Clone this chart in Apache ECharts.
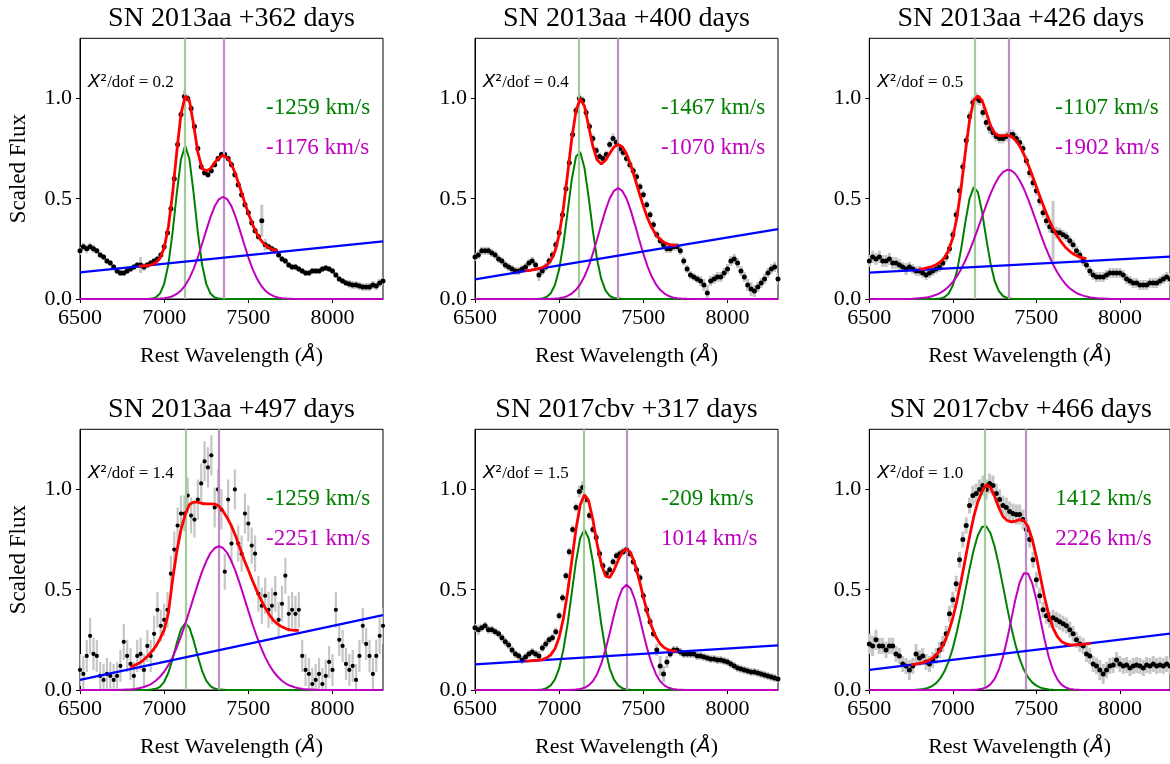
<!DOCTYPE html>
<html><head><meta charset="utf-8">
<script src="https://cdn.jsdelivr.net/npm/echarts@6/dist/echarts.min.js"></script>
<style>html,body{margin:0;padding:0;background:#fff;}#c{width:1170px;height:764px;}</style>
</head><body><div id="c"></div>
<script>
// ---------------- DATA ----------------
const TITLES = ['SN 2013aa +362 days','SN 2013aa +400 days','SN 2013aa +426 days','SN 2013aa +497 days','SN 2017cbv +317 days','SN 2017cbv +466 days'];
const CHI = ['0.2','0.4','0.5','1.4','1.5','1.0'];
const VEL_G = ['-1259 km/s','-1467 km/s','-1107 km/s','-1259 km/s','-209 km/s','1412 km/s'];
const VEL_M = ['-1176 km/s','-1070 km/s','-1902 km/s','-2251 km/s','1014 km/s','2226 km/s'];
const X_TICKS = [6500,7000,7500,8000];
const Y_TICKS = [0,0.5,1.0];
const LINE_G = [7125,7118,7130,7127,7148,7191];
const LINE_M = [7352,7349,7333,7325,7402,7436];

const WAVE_DATA = [
6500,6520,6540,6560,6580,6600,6620,6640,6660,6680,
6700,6720,6740,6760,6780,6800,6820,6840,6860,6880,
6900,6920,6940,6960,6980,7000,7020,7040,7060,7080,
7100,7120,7140,7160,7180,7200,7220,7240,7260,7280,
7300,7320,7340,7360,7380,7400,7420,7440,7460,7480,
7500,7520,7540,7560,7580,7600,7620,7640,7660,7680,
7700,7720,7740,7760,7780,7800,7820,7840,7860,7880,
7900,7920,7940,7960,7980,8000,8020,8040,8060,8080,
8100,8120,8140,8160,8180,8200,8220,8240,8260,8280,
8300];
const WAVE_MODEL = [
6500,6525,6550,6575,6600,6625,6650,6675,6700,6725,
6750,6775,6800,6825,6850,6875,6900,6925,6950,6975,
7000,7025,7050,7075,7100,7125,7150,7175,7200,7225,
7250,7275,7300,7325,7350,7375,7400,7425,7450,7475,
7500,7525,7550,7575,7600,7625,7650,7675,7700,7725,
7750,7775,7800,7825,7850,7875,7900,7925,7950,7975,
8000,8025,8050,8075,8100,8125,8150,8175,8200,8225,
8250,8275,8300];
const BASE_X = [6500, 8300];

// Panel 1: SN 2013aa +362
const FLUX_1 = [
.24,.26,.25,.26,.25,.24,.22,.21,.19,.18,
.16,.14,.13,.13,.14,.15,.16,.17,.17,.16,
.17,.18,.19,.20,.22,.26,.33,.45,.60,.77,
.92,1.01,1.00,.95,.86,.75,.66,.63,.62,.64,
.67,.70,.72,.72,.70,.67,.62,.57,.52,.47,
.43,.38,.34,.31,.39,.27,.26,.25,.24,.22,
.20,.19,.17,.16,.16,.15,.14,.13,.13,.14,
.14,.14,.15,.155,.15,.14,.12,.10,.09,.08,
.075,.07,.07,.065,.06,.06,.06,.07,.065,.08,
.09];
const ERR_1 = [
.02,.02,.02,.02,.02,.015,.015,.015,.015,.015,
.015,.015,.015,.015,.015,.015,.015,.015,.04,.02,
.015,.015,.015,.015,.015,.015,.015,.015,.015,.015,
.015,.03,.02,.015,.015,.015,.015,.015,.015,.015,
.015,.015,.015,.015,.015,.015,.015,.015,.015,.015,
.015,.015,.015,.015,.08,.03,.015,.015,.015,.015,
.015,.015,.015,.015,.015,.015,.015,.015,.015,.015,
.015,.015,.015,.015,.015,.015,.015,.015,.015,.015,
.02,.02,.02,.02,.02,.02,.02,.02,.02,.02,
.02];
const GAUSS_G_1 = [
0,0,0,0,0,0,0,0,0,0,
0,0,0,0,0,0,0,.002,.008,.027,
.075,.173,.332,.528,.697,.765,.697,.528,.332,.173,
.075,.027,.008,.002,0,0,0,0,0,0,
0,0,0,0,0,0,0,0,0,0,
0,0,0,0,0,0,0,0,0,0,
0,0,0,0,0,0,0,0,0,0,
0,0,0];
const GAUSS_M_1 = [
0,0,0,0,0,0,0,0,0,0,
0,0,0,0,0,0,0,0,.001,.002,
.004,.008,.014,.025,.042,.068,.104,.150,.208,.274,
.342,.408,.462,.497,.510,.497,.462,.408,.342,.274,
.208,.150,.104,.068,.042,.025,.014,.008,.004,.002,
.001,0,0,0,0,0,0,0,0,0,
0,0,0,0,0,0,0,0,0,0,
0,0,0];
const FIT_1 = [
null,null,null,null,null,null,null,null,null,null,
null,null,null,null,.163,.165,.167,.171,.181,.203,
.255,.359,.526,.735,.923,1.012,.990,.869,.733,.650,
.640,.650,.680,.703,.716,.705,.672,.620,.556,.490,
.427,.371,.327,.293,.269,.254,.245,.242,null,null,
null,null,null,null,null,null,null,null,null,null,
null,null,null,null,null,null,null,null,null,null,
null,null,null];
const BASE_1 = [0.133, 0.287];

// Panel 2: SN 2013aa +400
const FLUX_2 = [
.21,.22,.24,.24,.24,.23,.22,.20,.19,.17,
.16,.15,.14,.14,.15,.16,.18,.19,.17,.12,
.14,.16,.19,.22,.27,.33,.42,.55,.68,.82,
.94,1.00,.99,.93,.86,.80,.74,.71,.70,.72,
.77,.80,.78,.75,.73,.70,.67,.64,.61,.56,
.52,.47,.42,.37,.32,.29,.27,.25,.25,.26,
.26,.24,.19,.15,.12,.11,.10,.09,.07,.03,
.09,.10,.11,.11,.13,.15,.19,.20,.18,.14,
.11,.07,.05,.04,.06,.08,.10,.13,.15,.16,
.10];
const ERR_2 = [
.02,.02,.02,.02,.02,.02,.02,.02,.02,.02,
.02,.02,.02,.02,.02,.02,.02,.02,.02,.03,
.02,.02,.02,.02,.02,.02,.02,.02,.02,.02,
.02,.025,.02,.02,.02,.02,.02,.02,.02,.02,
.02,.025,.02,.02,.02,.02,.02,.02,.02,.02,
.02,.02,.02,.02,.02,.02,.02,.02,.02,.02,
.02,.02,.02,.02,.02,.02,.02,.025,.03,.04,
.025,.025,.025,.025,.025,.025,.025,.025,.025,.025,
.025,.03,.035,.03,.025,.025,.025,.025,.025,.025,
.03];
const GAUSS_G_2 = [
0,0,0,0,0,0,0,0,0,0,
0,0,0,0,0,.001,.003,.010,.029,.070,
.149,.273,.433,.596,.710,.733,.655,.508,.341,.198,
.100,.043,.016,.005,.002,0,0,0,0,0,
0,0,0,0,0,0,0,0,0,0,
0,0,0,0,0,0,0,0,0,0,
0,0,0,0,0,0,0,0,0,0,
0,0,0];
const GAUSS_M_2 = [
0,0,0,0,0,0,0,0,0,0,
0,0,0,0,0,0,0,0,.001,.002,
.004,.008,.015,.027,.046,.073,.112,.163,.226,.297,
.371,.442,.501,.539,.553,.539,.501,.442,.371,.297,
.226,.163,.112,.073,.046,.027,.015,.008,.004,.002,
.001,0,0,0,0,0,0,0,0,0,
0,0,0,0,0,0,0,0,0,0,
0,0,0];
const FIT_2 = [
null,null,null,null,null,null,null,null,null,null,
null,null,.140,.143,.147,.151,.157,.167,.191,.236,
.321,.452,.622,.801,.937,1.000,.962,.863,.762,.694,
.673,.691,.726,.757,.771,.759,.724,.669,.601,.531,
.463,.404,.356,.320,.297,.281,.273,.269,.269,null,
null,null,null,null,null,null,null,null,null,null,
null,null,null,null,null,null,null,null,null,null,
null,null,null];
const BASE_2 = [0.098, 0.349];

// Panel 3: SN 2013aa +426
const FLUX_3 = [
.19,.21,.20,.21,.19,.19,.20,.18,.18,.17,
.16,.15,.16,.15,.14,.14,.13,.12,.13,.14,
.15,.16,.18,.21,.25,.32,.42,.54,.66,.79,
.91,.98,1.00,.99,.93,.88,.85,.83,.81,.80,
.80,.81,.82,.82,.80,.78,.75,.69,.63,.58,
.54,.49,.43,.39,.36,.34,.33,.33,.32,.31,
.29,.27,.24,.22,.19,.17,.14,.12,.11,.11,
.11,.12,.13,.13,.13,.13,.12,.10,.09,.08,
.08,.07,.07,.07,.08,.08,.08,.09,.10,.11,
.10];
const ERR_3 = [
.03,.03,.03,.03,.03,.03,.03,.03,.03,.03,
.025,.03,.025,.025,.025,.025,.025,.025,.025,.025,
.025,.025,.03,.025,.025,.025,.025,.025,.025,.025,
.025,.025,.03,.025,.025,.025,.025,.025,.025,.025,
.025,.025,.025,.025,.025,.025,.025,.025,.025,.025,
.025,.025,.025,.025,.03,.15,.03,.025,.025,.025,
.025,.025,.025,.025,.025,.025,.025,.025,.025,.025,
.025,.025,.025,.025,.025,.025,.025,.025,.025,.025,
.025,.025,.025,.025,.025,.025,.025,.025,.025,.025,
.03];
const GAUSS_G_3 = [
0,0,0,0,0,0,0,0,0,0,
0,0,0,0,0,0,.001,.003,.009,.027,
.067,.140,.250,.383,.500,.558,.533,.434,.302,.180,
.091,.040,.015,.005,.001,0,0,0,0,0,
0,0,0,0,0,0,0,0,0,0,
0,0,0,0,0,0,0,0,0,0,
0,0,0,0,0,0,0,0,0,0,
0,0,0];
const GAUSS_M_3 = [
0,0,0,0,0,0,0,0,0,0,
0,.002,.004,.006,.009,.014,.021,.031,.044,.062,
.085,.114,.150,.192,.240,.294,.351,.410,.468,.523,
.570,.608,.633,.644,.641,.623,.592,.550,.499,.443,
.384,.325,.269,.218,.172,.133,.101,.074,.054,.038,
.026,.018,.012,.007,.005,.003,.002,.001,0,0,
0,0,0,0,0,0,0,0,0,0,
0,0,0];
const FIT_3 = [
null,null,null,null,null,null,null,null,null,null,
null,null,.149,.152,.156,.162,.171,.185,.205,.242,
.306,.409,.556,.732,.890,.990,1.012,.990,.930,.867,
.826,.814,.815,.817,.811,.793,.763,.722,.672,.617,
.560,.502,.447,.397,.352,.314,.283,.257,.238,.223,
.212,.205,.201,null,null,null,null,null,null,null,
null,null,null,null,null,null,null,null,null,null,
null,null,null];
const BASE_3 = [0.132, 0.211];

// Panel 4: SN 2013aa +497
const FLUX_4 = [
.10,.08,.17,.27,.18,.17,.07,.05,.08,.07,
.05,.07,.12,.24,.17,.13,.07,.17,.18,.10,
.22,.17,.28,.40,.32,.35,.40,.58,.70,.82,
.88,.88,.97,.87,.85,.95,1.03,1.14,1.11,1.17,
.91,1.00,.90,.59,.95,.73,1.00,.73,.68,.88,
.83,.72,.68,.48,.42,.47,.40,.42,.48,.35,
.43,.57,.38,.40,.38,.40,.17,.10,.08,.03,
.05,.08,.03,.07,.14,.10,.40,.25,.22,.13,
.10,.12,.05,.17,.32,.23,.17,.08,.17,.27,
.32];
const ERR_4 = [
.08,.09,.08,.09,.08,.08,.07,.08,.08,.07,
.08,.07,.08,.09,.08,.08,.07,.08,.08,.08,
.08,.08,.09,.09,.08,.08,.09,.09,.09,.09,
.09,.09,.09,.09,.09,.10,.10,.10,.10,.10,
.10,.10,.10,.09,.10,.10,.10,.09,.09,.10,
.09,.09,.09,.09,.09,.09,.09,.09,.09,.09,
.09,.09,.09,.09,.09,.09,.08,.08,.08,.08,
.08,.08,.08,.08,.08,.08,.09,.08,.08,.08,
.08,.08,.08,.08,.09,.08,.08,.08,.08,.09,
.09];
const GAUSS_G_4 = [
0,0,0,0,0,0,0,0,0,0,
0,0,0,0,0,0,0,.002,.006,.016,
.041,.086,.154,.234,.303,.333,.311,.247,.167,.096,
.047,.019,.007,.002,.001,0,0,0,0,0,
0,0,0,0,0,0,0,0,0,0,
0,0,0,0,0,0,0,0,0,0,
0,0,0,0,0,0,0,0,0,0,
0,0,0];
const GAUSS_M_4 = [
0,0,0,0,0,0,0,0,0,0,
.001,.002,.003,.005,.009,.014,.021,.031,.046,.066,
.091,.124,.164,.212,.267,.328,.394,.462,.528,.590,
.642,.683,.708,.717,.708,.683,.642,.590,.528,.462,
.394,.328,.267,.212,.164,.124,.091,.066,.046,.031,
.021,.014,.009,.005,.003,.002,.001,0,0,0,
0,0,0,0,0,0,0,0,0,0,
0,0,0];
const FIT_4 = [
null,null,null,null,null,null,null,null,null,null,
null,null,.113,.123,.133,.148,.167,.190,.217,.255,
.300,.383,.550,.690,.800,.875,.925,.937,.937,.930,
.928,.928,.927,.917,.892,.858,.817,.767,.708,.650,
.598,.545,.495,.450,.410,.375,.347,.328,.315,.305,
.300,.297,.297,null,null,null,null,null,null,null,
null,null,null,null,null,null,null,null,null,null,
null,null,null];
const BASE_4 = [0.050, 0.373];

// Panel 5: SN 2017cbv +317
const FLUX_5 = [
.31,.30,.31,.32,.30,.30,.29,.28,.26,.24,
.225,.20,.18,.17,.15,.165,.18,.19,.18,.17,
.21,.23,.25,.26,.29,.37,.46,.57,.69,.80,
.91,.99,1.01,.95,.87,.80,.76,.68,.62,.58,
.60,.64,.67,.68,.69,.70,.68,.64,.60,.56,
.47,.40,.34,.28,.20,.12,.08,.14,.18,.20,
.20,.19,.18,.18,.18,.18,.17,.17,.165,.16,
.155,.155,.15,.15,.145,.14,.13,.12,.11,.105,
.10,.095,.09,.09,.085,.08,.075,.07,.065,.06,
.055];
const ERR_5 = [
.02,.025,.02,.02,.02,.02,.02,.02,.02,.02,
.02,.02,.02,.02,.02,.02,.02,.02,.02,.025,
.02,.02,.02,.02,.02,.02,.02,.02,.02,.02,
.02,.03,.03,.02,.02,.02,.02,.02,.02,.02,
.02,.02,.02,.02,.02,.02,.02,.02,.02,.02,
.02,.02,.02,.02,.03,.05,.04,.03,.02,.02,
.02,.02,.02,.02,.02,.02,.02,.02,.02,.02,
.02,.02,.02,.02,.02,.02,.02,.02,.02,.02,
.02,.02,.02,.02,.02,.02,.02,.02,.02,.02,
.02];
const GAUSS_G_5 = [
0,0,0,0,0,0,0,0,0,0,
0,0,0,0,0,.001,.003,.009,.023,.053,
.108,.200,.329,.485,.641,.757,.800,.757,.641,.485,
.329,.200,.108,.053,.023,.009,.003,.001,0,0,
0,0,0,0,0,0,0,0,0,0,
0,0,0,0,0,0,0,0,0,0,
0,0,0,0,0,0,0,0,0,0,
0,0,0];
const GAUSS_M_5 = [
0,0,0,0,0,0,0,0,0,0,
0,0,0,0,0,0,0,0,0,0,
0,0,0,.001,.002,.005,.011,.023,.044,.079,
.131,.200,.283,.371,.450,.505,.525,.505,.450,.371,
.283,.200,.131,.079,.044,.023,.011,.005,.002,.001,
0,0,0,0,0,0,0,0,0,0,
0,0,0,0,0,0,0,0,0,0,
0,0,0];
const FIT_5 = [
null,null,null,null,null,null,null,null,null,null,
null,null,.144,.145,.147,.149,.152,.160,.175,.206,
.263,.356,.486,.644,.803,.923,.973,.944,.850,.730,
.628,.569,.561,.596,.646,.688,.704,.683,.628,.551,
.464,.382,.315,.264,.230,.211,.200,.195,.194,null,
null,null,null,null,null,null,null,null,null,null,
null,null,null,null,null,null,null,null,null,null,
null,null,null];
const BASE_5 = [0.128, 0.223];

// Panel 6: SN 2017cbv +466
const FLUX_6 = [
.23,.22,.25,.22,.22,.20,.22,.22,.18,.17,
.13,.12,.10,.12,.18,.16,.17,.14,.13,.15,
.17,.20,.23,.28,.38,.45,.53,.65,.75,.82,
.92,.97,.98,1.00,1.02,1.00,1.03,1.02,.98,.95,
.92,.91,.89,.88,.875,.875,.85,.80,.75,.65,
.55,.47,.40,.37,.35,.36,.35,.34,.33,.32,
.30,.28,.25,.23,.22,.18,.17,.13,.12,.10,
.08,.10,.12,.125,.15,.13,.12,.125,.11,.12,
.125,.12,.11,.125,.12,.13,.12,.125,.12,.13,
.12];
const ERR_6 = [
.05,.05,.05,.04,.04,.04,.04,.04,.04,.04,
.04,.04,.05,.04,.05,.04,.04,.04,.04,.04,
.04,.04,.04,.04,.04,.04,.04,.04,.04,.04,
.04,.05,.05,.05,.05,.05,.05,.05,.05,.05,
.05,.05,.05,.05,.05,.05,.05,.05,.04,.04,
.04,.04,.04,.04,.04,.04,.04,.04,.04,.04,
.04,.04,.04,.04,.04,.04,.04,.04,.04,.05,
.05,.04,.04,.04,.04,.04,.04,.04,.04,.04,
.04,.04,.04,.04,.04,.04,.04,.04,.04,.04,
.04];
const GAUSS_G_6 = [
0,0,0,0,0,0,0,0,0,0,
0,.001,.003,.005,.010,.019,.034,.058,.093,.143,
.209,.293,.391,.497,.604,.699,.772,.813,.817,.783,
.716,.624,.519,.412,.312,.225,.155,.102,.064,.038,
.022,.012,.006,.003,.001,0,0,0,0,0,
0,0,0,0,0,0,0,0,0,0,
0,0,0,0,0,0,0,0,0,0,
0,0,0];
const GAUSS_M_6 = [
0,0,0,0,0,0,0,0,0,0,
0,0,0,0,0,0,0,0,0,0,
0,0,0,0,0,.001,.002,.006,.013,.028,
.055,.100,.165,.252,.352,.453,.536,.582,.581,.533,
.450,.348,.248,.162,.098,.054,.027,.013,.005,.002,
.001,0,0,0,0,0,0,0,0,0,
0,0,0,0,0,0,0,0,0,0,
0,0,0];
const FIT_6 = [
null,null,null,null,null,null,null,null,null,null,
.126,.129,.133,.138,.145,.157,.174,.201,.238,.291,
.359,.446,.546,.655,.764,.863,.939,.990,1.025,1.010,
.965,.910,.865,.845,.838,.842,.850,.845,.815,.752,
.664,.560,.459,.373,.309,.267,.242,.231,.225,.225,
.226,.228,.230,.233,null,null,null,null,null,null,
null,null,null,null,null,null,null,null,null,null,
null,null,null];
const BASE_6 = [0.100, 0.281];

// ---------------- LAYOUT / STYLE ----------------
const PANELS = [
  {flux:FLUX_1, err:ERR_1, g:GAUSS_G_1, m:GAUSS_M_1, fit:FIT_1, base:BASE_1},
  {flux:FLUX_2, err:ERR_2, g:GAUSS_G_2, m:GAUSS_M_2, fit:FIT_2, base:BASE_2},
  {flux:FLUX_3, err:ERR_3, g:GAUSS_G_3, m:GAUSS_M_3, fit:FIT_3, base:BASE_3},
  {flux:FLUX_4, err:ERR_4, g:GAUSS_G_4, m:GAUSS_M_4, fit:FIT_4, base:BASE_4},
  {flux:FLUX_5, err:ERR_5, g:GAUSS_G_5, m:GAUSS_M_5, fit:FIT_5, base:BASE_5},
  {flux:FLUX_6, err:ERR_6, g:GAUSS_G_6, m:GAUSS_M_6, fit:FIT_6, base:BASE_6}
];
const LEFTS = [80, 475, 869.3], TOPS = [38.3, 429.3], W = 303, H = 260.7;
const SERIF = '"Liberation Serif", "Times New Roman", serif';
const C_GREEN = '#008000', C_MAG = '#bf00bf', C_BLUE = '#0000ff', C_RED = '#ff0000';

const grids = [], xAxes = [], yAxes = [], series = [], graphics = [];
PANELS.forEach((p, i) => {
  const col = i % 3, row = Math.floor(i / 3);
  const L = LEFTS[col], T = TOPS[row];
  const sparse = (i === 3);
  grids.push({left: L, top: T, width: W, height: H, show: true, borderColor: '#000', borderWidth: 1, backgroundColor: 'transparent'});
  xAxes.push({
    type: 'value', gridIndex: i, min: 6500, max: 8300,
    axisLine: {show: true, onZero: false, lineStyle: {color: '#000', width: 1}},
    axisTick: {show: true, inside: false, length: 4, lineStyle: {color: '#000', width: 1}, customValues: X_TICKS},
    axisLabel: {show: true, customValues: X_TICKS, margin: 8, color: '#000', fontFamily: SERIF, fontSize: 22,
      formatter: v => String(Math.round(v))},
    splitLine: {show: false},
    name: 'Rest Wavelength ({a|Å})', nameLocation: 'middle', nameGap: 46,
    nameTextStyle: {color: '#000', fontFamily: SERIF, fontSize: 22,
      rich: {a: {fontFamily: 'DejaVu Sans', fontStyle: 'italic', fontSize: 20, color: '#000'}}}
  });
  yAxes.push({
    type: 'value', gridIndex: i, min: 0, max: 1.3,
    axisLine: {show: true, onZero: false, lineStyle: {color: '#000', width: 1}},
    axisTick: {show: true, inside: false, length: 4, lineStyle: {color: '#000', width: 1}, customValues: Y_TICKS},
    axisLabel: {show: true, customValues: Y_TICKS, margin: 8, color: '#000', fontFamily: SERIF, fontSize: 22,
      formatter: v => Number(v).toFixed(1)},
    splitLine: {show: false},
    name: col === 0 ? 'Scaled Flux' : '', nameLocation: 'middle', nameGap: 50,
    nameTextStyle: {color: '#000', fontFamily: SERIF, fontSize: 23}
  });
  const ax = {xAxisIndex: i, yAxisIndex: i, silent: true, animation: false};
  // vertical reference lines
  series.push(Object.assign({type: 'line', data: [], z: 1,
    markLine: {silent: true, symbol: ['none', 'none'], animation: false, label: {show: false},
      data: [
        {xAxis: LINE_G[i], lineStyle: {color: '#a2cb98', width: 2.2, type: 'solid'}},
        {xAxis: LINE_M[i], lineStyle: {color: '#bd8fc3', width: 2.2, type: 'solid'}}
      ]}}, ax));
  // error bars
  series.push(Object.assign({type: 'custom', clip: true, z: 2,
    data: WAVE_DATA.map((w, k) => [w, p.flux[k], p.err[k]]),
    encode: {x: 0, y: 1},
    renderItem: (params, api) => {
      const x = api.value(0), y = api.value(1), e = api.value(2);
      const a = api.coord([x, y - e]), b = api.coord([x, y + e]);
      return {type: 'line', shape: {x1: a[0], y1: a[1], x2: b[0], y2: b[1]},
        style: {stroke: '#c6c6c6', lineWidth: sparse ? 2.2 : 3}};
    }}, ax));
  // data points
  series.push(Object.assign({type: 'scatter', z: 3, symbol: 'circle', symbolSize: sparse ? 4.2 : 5,
    itemStyle: {color: '#000', opacity: 1},
    data: WAVE_DATA.map((w, k) => [w, p.flux[k]])}, ax));
  const lineSeries = (arr, color, width, z) => Object.assign({type: 'line', z: z, showSymbol: false, symbol: 'none',
    connectNulls: false, lineStyle: {color: color, width: width},
    data: WAVE_MODEL.map((w, k) => [w, arr[k]])}, ax);
  series.push(lineSeries(p.g, C_GREEN, 2, 4));
  series.push(lineSeries(p.m, C_MAG, 2, 5));
  series.push(Object.assign({type: 'line', z: 6, showSymbol: false, symbol: 'none',
    lineStyle: {color: C_BLUE, width: 2.3},
    data: [[BASE_X[0], p.base[0]], [BASE_X[1], p.base[1]]]}, ax));
  series.push(lineSeries(p.fit, C_RED, 2.8, 7));

  // texts
  graphics.push({type: 'text', x: L + W / 2, y: T - 19.5, silent: true, z: 100,
    style: {text: TITLES[i], font: '28px ' + SERIF, fill: '#000',
      align: 'center', verticalAlign: 'middle', textAlign: 'center', textVerticalAlign: 'middle'}});
  graphics.push({type: 'text', x: L + 8, y: T + 44, silent: true, z: 100,
    style: {text: '{x|X}{s|²}{t|/dof = ' + CHI[i] + '}',
      rich: {
        x: {fontFamily: 'DejaVu Sans', fontStyle: 'italic', fontSize: 18, fill: '#000', color: '#000'},
        s: {fontFamily: 'DejaVu Sans', fontSize: 17, fill: '#000', color: '#000'},
        t: {fontFamily: SERIF, fontSize: 17, fill: '#000', color: '#000'}
      },
      align: 'left', verticalAlign: 'middle', textAlign: 'left', textVerticalAlign: 'middle'}});
  graphics.push({type: 'text', x: L + 186, y: T + 70, silent: true, z: 100,
    style: {text: VEL_G[i], font: '23px ' + SERIF, fill: C_GREEN,
      align: 'left', verticalAlign: 'middle', textAlign: 'left', textVerticalAlign: 'middle'}});
  graphics.push({type: 'text', x: L + 186, y: T + 110, silent: true, z: 100,
    style: {text: VEL_M[i], font: '23px ' + SERIF, fill: C_MAG,
      align: 'left', verticalAlign: 'middle', textAlign: 'left', textVerticalAlign: 'middle'}});
});

const chart = echarts.init(document.getElementById('c'), null, {renderer: 'canvas', width: 1170, height: 764});
chart.setOption({
  backgroundColor: '#ffffff',
  animation: false,
  grid: grids, xAxis: xAxes, yAxis: yAxes, series: series, graphic: graphics
});
</script></body></html>
